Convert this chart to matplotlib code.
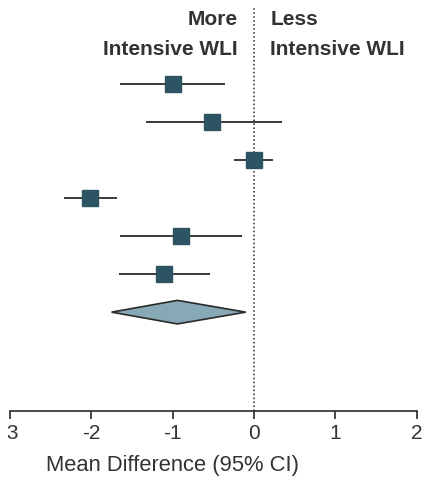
import numpy as np
import matplotlib
matplotlib.use("Agg")
import matplotlib.pyplot as plt
from matplotlib.patches import Polygon
from matplotlib.transforms import Bbox

# study estimates (mean difference, 95% CI)
mean_diff = [-1.00, -0.51, 0.00, -2.01, -0.90, -1.10]
ci_low = [-1.65, -1.33, -0.25, -2.33, -1.65, -1.66]
ci_high = [-0.36, 0.34, 0.24, -1.68, -0.15, -0.54]

# pooled estimate
pooled = -0.94
pooled_low = -1.75
pooled_high = -0.10

xticks = [-3, -2, -1, 0, 1, 2]

plt.rcParams['font.family'] = ['Liberation Sans Narrow', 'Liberation Sans', 'DejaVu Sans']
plt.rcParams['axes.unicode_minus'] = False

W, H = 424, 479
fig = plt.figure(figsize=(W / 100, H / 100), dpi=100)
ax = fig.add_axes([9.8 / W, (H - 411) / H, (416.7 - 9.8) / W, (411 - 8) / H])

square_color = '#2c5463'
line_color = '#2a2a2a'
text_color = '#333333'

rows = np.arange(1, len(mean_diff) + 1)
ax.hlines(rows, ci_low, ci_high, color=line_color, lw=1.3, zorder=2)
ax.plot(mean_diff, rows, 's', color=square_color, markersize=11.5, zorder=3)

y_pool = len(mean_diff) + 1
diamond = Polygon([[pooled_low, y_pool], [pooled, y_pool - 0.31],
                   [pooled_high, y_pool], [pooled, y_pool + 0.31]],
                  closed=True, facecolor='#86a9b5', edgecolor=line_color, lw=1.2, zorder=3)
ax.add_patch(diamond)

ax.axvline(0, color=line_color, lw=1.1, ls=(0, (1, 1.6)), zorder=1)

ax.set_xlim(-3, 2)
ax.set_ylim(9.6, -1)
ax.set_xticks(xticks)
ax.set_yticks([])
for s in ['top', 'right', 'left']:
    ax.spines[s].set_visible(False)
ax.spines['bottom'].set_color(line_color)
ax.spines['bottom'].set_linewidth(1.2)
ax.tick_params(axis='x', length=5.5, width=1.2, color=line_color, labelsize=15,
               labelcolor=text_color, pad=4)
ax.set_xlabel('Mean Difference (95% CI)', fontsize=15.8, color=text_color)
ax.xaxis.set_label_coords(0.40, -0.11)

# the source image is cropped at the left edge, cutting the minus of -3
first = ax.get_xticklabels()[0]
first.set_clip_on(True)
first.set_clip_box(Bbox.from_extents(8, 0, W, H))

hdr = dict(va='center', fontsize=15, fontweight='bold', color=text_color)
ax.text(-0.2, -0.69, 'More', ha='right', **hdr)
ax.text(-0.2, 0.10, 'Intensive WLI', ha='right', **hdr)
ax.text(0.2, -0.69, 'Less', ha='left', **hdr)
ax.text(0.2, 0.10, 'Intensive WLI', ha='left', **hdr)

fig.savefig('out.png', dpi=100)
